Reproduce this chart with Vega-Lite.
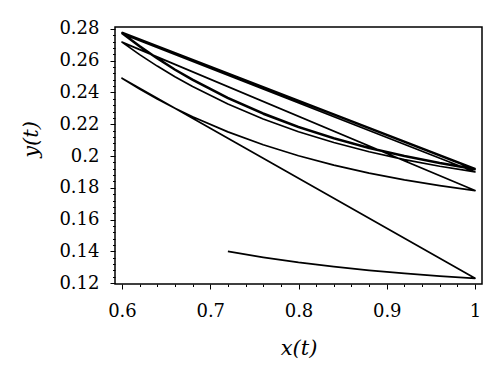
{
  "$schema": "https://vega.github.io/schema/vega-lite/v6.json",
  "width": 367,
  "height": 257,
  "autosize": {"type": "none"},
  "padding": {"left": 115, "top": 27, "right": 18, "bottom": 93},
  "background": "white",
  "config": {
    "view": {"stroke": "black", "strokeWidth": 1.5},
    "axis": {"domain": false, "grid": false, "tickColor": "black", "labelColor": "black", "titleColor": "black", "labelFont": "DejaVu Serif", "labelFontSize": 18, "titleFont": "DejaVu Serif", "titleFontSize": 21, "titleFontStyle": "italic", "titleFontWeight": "normal", "labelOverlap": false, "labelFlush": false, "labelBound": false}
  },
  "data": {"values": [
    {"i": 1, "x": 0.72, "y": 0.1400},
    {"i": 2, "x": 0.76, "y": 0.1363},
    {"i": 3, "x": 0.80, "y": 0.1331},
    {"i": 4, "x": 0.84, "y": 0.1304},
    {"i": 5, "x": 0.88, "y": 0.1281},
    {"i": 6, "x": 0.92, "y": 0.1262},
    {"i": 7, "x": 0.96, "y": 0.1245},
    {"i": 8, "x": 1.00, "y": 0.1231},
    {"i": 9, "x": 0.60, "y": 0.2490},
    {"i": 10, "x": 0.62, "y": 0.2422},
    {"i": 11, "x": 0.64, "y": 0.2359},
    {"i": 12, "x": 0.66, "y": 0.2301},
    {"i": 13, "x": 0.68, "y": 0.2247},
    {"i": 14, "x": 0.72, "y": 0.2152},
    {"i": 15, "x": 0.76, "y": 0.2071},
    {"i": 16, "x": 0.80, "y": 0.2002},
    {"i": 17, "x": 0.84, "y": 0.1943},
    {"i": 18, "x": 0.88, "y": 0.1893},
    {"i": 19, "x": 0.92, "y": 0.1850},
    {"i": 20, "x": 0.96, "y": 0.1814},
    {"i": 21, "x": 1.00, "y": 0.1783},
    {"i": 22, "x": 0.60, "y": 0.2717},
    {"i": 23, "x": 0.62, "y": 0.2638},
    {"i": 24, "x": 0.64, "y": 0.2566},
    {"i": 25, "x": 0.66, "y": 0.2499},
    {"i": 26, "x": 0.68, "y": 0.2437},
    {"i": 27, "x": 0.72, "y": 0.2327},
    {"i": 28, "x": 0.76, "y": 0.2233},
    {"i": 29, "x": 0.80, "y": 0.2153},
    {"i": 30, "x": 0.84, "y": 0.2085},
    {"i": 31, "x": 0.88, "y": 0.2027},
    {"i": 32, "x": 0.92, "y": 0.1978},
    {"i": 33, "x": 0.96, "y": 0.1936},
    {"i": 34, "x": 1.00, "y": 0.1900},
    {"i": 35, "x": 0.60, "y": 0.2770},
    {"i": 36, "x": 0.62, "y": 0.2688},
    {"i": 37, "x": 0.64, "y": 0.2612},
    {"i": 38, "x": 0.66, "y": 0.2541},
    {"i": 39, "x": 0.68, "y": 0.2477},
    {"i": 40, "x": 0.72, "y": 0.2362},
    {"i": 41, "x": 0.76, "y": 0.2264},
    {"i": 42, "x": 0.80, "y": 0.2180},
    {"i": 43, "x": 0.84, "y": 0.2109},
    {"i": 44, "x": 0.88, "y": 0.2048},
    {"i": 45, "x": 0.92, "y": 0.1997},
    {"i": 46, "x": 0.96, "y": 0.1953},
    {"i": 47, "x": 1.00, "y": 0.1915},
    {"i": 48, "x": 0.60, "y": 0.2776},
    {"i": 49, "x": 0.62, "y": 0.2694},
    {"i": 50, "x": 0.64, "y": 0.2618},
    {"i": 51, "x": 0.66, "y": 0.2547},
    {"i": 52, "x": 0.68, "y": 0.2483},
    {"i": 53, "x": 0.72, "y": 0.2368},
    {"i": 54, "x": 0.76, "y": 0.2270},
    {"i": 55, "x": 0.80, "y": 0.2186},
    {"i": 56, "x": 0.84, "y": 0.2115},
    {"i": 57, "x": 0.88, "y": 0.2054},
    {"i": 58, "x": 0.92, "y": 0.2003},
    {"i": 59, "x": 0.96, "y": 0.1959},
    {"i": 60, "x": 1.00, "y": 0.1921},
    {"i": 61, "x": 0.60, "y": 0.2779}
  ]},
  "mark": {"type": "line", "color": "black", "strokeWidth": 1.7, "strokeJoin": "round"},
  "encoding": {
    "order": {"field": "i", "type": "quantitative"},
    "x": {
      "field": "x", "type": "quantitative",
      "scale": {"domain": [0.5921, 1.0079], "nice": false, "zero": false},
      "axis": {
        "title": "x(t)",
        "values": [0.6, 0.62, 0.64, 0.66, 0.68, 0.7, 0.72, 0.74, 0.76, 0.78, 0.8, 0.82, 0.84, 0.86, 0.88, 0.9, 0.92, 0.94, 0.96, 0.98, 1.0],
        "labelExpr": "abs(datum.value*10 - round(datum.value*10)) < 0.001 ? format(datum.value, '.1~f') : ''",
        "tickSize": {"condition": {"test": "abs(datum.value*10 - round(datum.value*10)) < 0.001", "value": 5}, "value": 2.5},
        "labelPadding": 13,
        "titlePadding": 17
      }
    },
    "y": {
      "field": "y", "type": "quantitative",
      "scale": {"domain": [0.1195, 0.2812], "nice": false, "zero": false},
      "axis": {
        "title": "y(t)",
        "values": [0.12, 0.124, 0.128, 0.132, 0.136, 0.14, 0.144, 0.148, 0.152, 0.156, 0.16, 0.164, 0.168, 0.172, 0.176, 0.18, 0.184, 0.188, 0.192, 0.196, 0.2, 0.204, 0.208, 0.212, 0.216, 0.22, 0.224, 0.228, 0.232, 0.236, 0.24, 0.244, 0.248, 0.252, 0.256, 0.26, 0.264, 0.268, 0.272, 0.276, 0.28],
        "labelExpr": "abs(datum.value*50 - round(datum.value*50)) < 0.001 ? format(datum.value, '.2~f') : ''",
        "tickSize": {"condition": {"test": "abs(datum.value*50 - round(datum.value*50)) < 0.001", "value": 5}, "value": 2.5},
        "labelPadding": 11,
        "titlePadding": 17,
        "titleY": 112
      }
    }
  }
}
